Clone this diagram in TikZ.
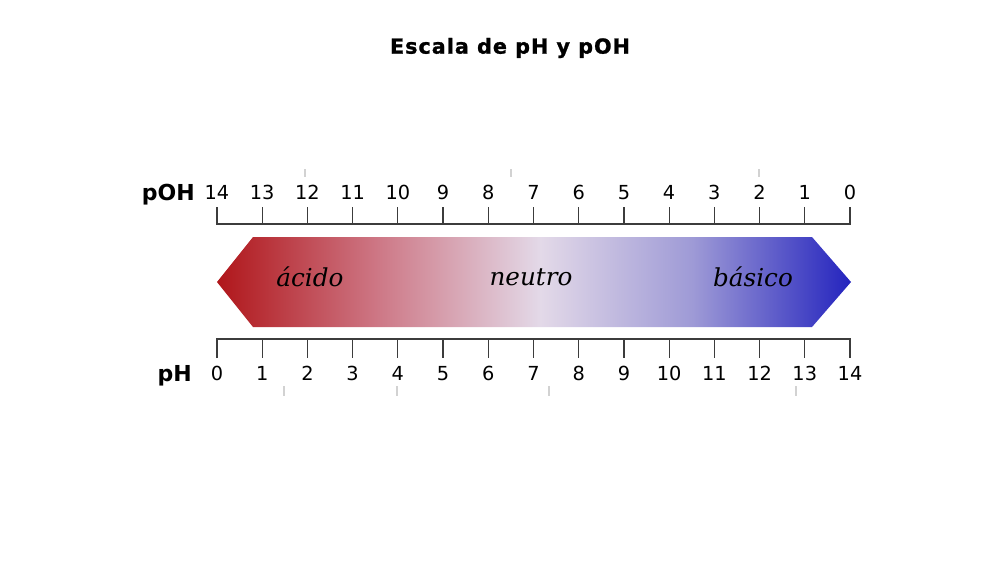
\documentclass[tikz,border=0pt]{standalone}
\usepackage{fontspec}
\setmainfont{DejaVu Sans}
\newfontfamily\titlefont[LetterSpace=5,FakeBold=1.2]{DejaVu Sans}
\newfontfamily\labelfont{DejaVu Serif}
\definecolor{acidred}{RGB}{176,22,26}
\definecolor{midred}{RGB}{205,118,132}
\definecolor{neutral}{RGB}{227,217,232}
\definecolor{midblue}{RGB}{158,154,214}
\definecolor{baseblue}{RGB}{36,36,190}
\definecolor{axisgray}{RGB}{60,60,60}
\pgfdeclarehorizontalshading{phshade}{100bp}{color(0bp)=(acidred); color(25bp)=(acidred); color(37.5bp)=(midred); color(50.5bp)=(neutral); color(62.5bp)=(midblue); color(75bp)=(baseblue); color(100bp)=(baseblue)}
\tikzset{
  axisline/.style={axisgray,line width=0.9pt},
  num/.style={font=\fontsize{14.5}{17}\selectfont,inner sep=0pt,anchor=base},
  scalename/.style={font=\bfseries\fontsize{16.5}{20}\selectfont,inner sep=0pt,anchor=base east},
  zone/.style={font=\labelfont\itshape\fontsize{18.5}{22}\selectfont,inner sep=0pt},
  faint/.style={gray!35,line width=0.8pt}
}
\begin{document}
\begin{tikzpicture}[x=0.75pt,y=-0.75pt]
\def\xa{217} \def\dx{45.214}
\useasboundingbox (0,0) rectangle (1000,562);
\node (title) at (510,48) {\titlefont\bfseries\fontsize{15.5}{18}\selectfont Escala de pH y pOH};

% shaded arrow
\path[shading=phshade] (217,282) -- (253,237) -- (812,237) -- (851,282) -- (812,327) -- (253,327) -- cycle;
\node[zone] (acido) at (310,277) {ácido};
\node[zone] (neutro) at (531,277) {neutro};
\node[zone] (basico) at (753,277) {básico};

% pOH scale
\draw[axisline] (\xa,207) -- (\xa,224) -- ({\xa+14*\dx},224) -- ({\xa+14*\dx},207);
\foreach \i in {1,...,13}
  \draw[axisline] ({\xa+\i*\dx},224) -- ({\xa+\i*\dx},207);
\foreach \i [evaluate=\i as \j using int(14-\i)] in {0,...,14}
  \node[num] (poh\j) at ({\xa+\i*\dx},199.5) {\j};
\node[scalename] (pohname) at (195,200) {pOH};

% pH scale
\draw[axisline] (\xa,358) -- (\xa,339) -- ({\xa+14*\dx},339) -- ({\xa+14*\dx},358);
\foreach \i in {1,...,13}
  \draw[axisline] ({\xa+\i*\dx},339) -- ({\xa+\i*\dx},358);
\foreach \i in {0,...,14}
  \node[num] (ph\i) at ({\xa+\i*\dx},380) {\i};
\node[scalename] (phname) at (192,381) {pH};

% faint marks
\foreach \x in {305,511,759}
  \draw[faint] (\x,169) -- (\x,177);
\foreach \x in {284,397,549,796}
  \draw[faint] (\x,386) -- (\x,396);
\end{tikzpicture}
\end{document}
